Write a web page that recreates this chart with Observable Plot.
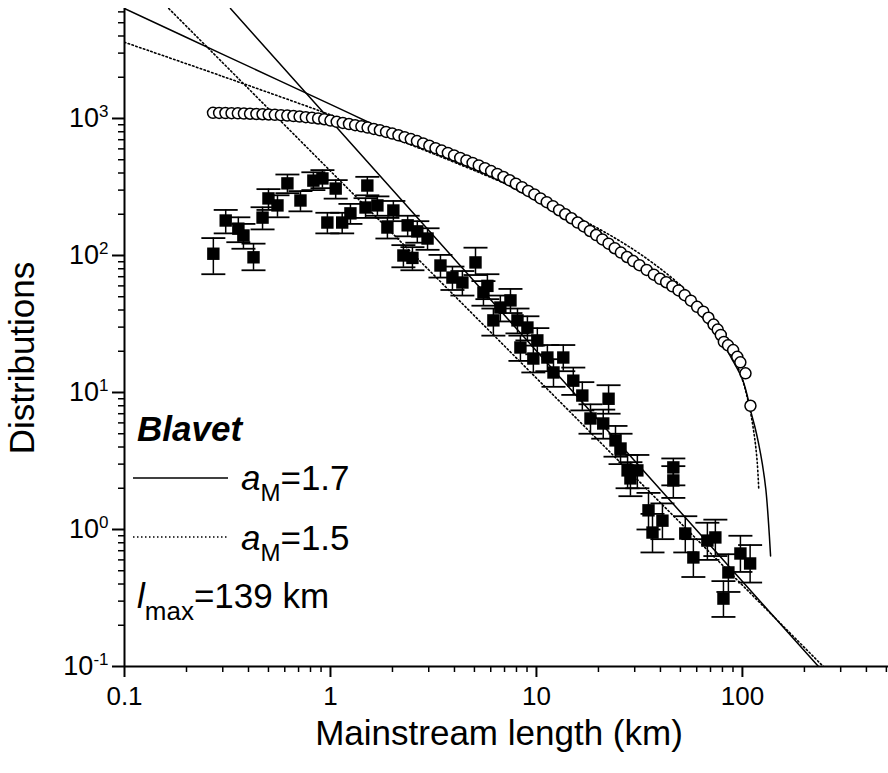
<!DOCTYPE html>
<html><head><meta charset="utf-8">
<script src="https://cdn.jsdelivr.net/npm/d3@7"></script>
<script src="https://cdn.jsdelivr.net/npm/@observablehq/plot@0.6"></script>
<style>html,body{margin:0;padding:0;background:#fff;}</style>
</head><body><div id="chart"></div>
<script>
const FONT = "'Liberation Sans', Arial, Helvetica, sans-serif";

// Axis ticks
const xMajorValues = [0.1, 1, 10, 100];
const xMajorLabels = ["0.1", "1", "10", "100"];
const xMinorValues = [0.2,0.3,0.4,0.5,0.6,0.7,0.8,0.9,2,3,4,5,6,7,8,9,20,30,40,50,60,70,80,90,200,300,400,500];
const yMajorValues = [0.1, 1, 10, 100, 1000];
const yMajorExponents = ["-1", "0", "1", "2", "3"];
const yMinorValues = [0.2,0.3,0.4,0.5,0.6,0.7,0.8,0.9,2,3,4,5,6,7,8,9,20,30,40,50,60,70,80,90,200,300,400,500,600,700,800,900,2000,3000,4000,5000,6000];

// Cumulative distribution (open circles): [length km, count]
const cumulativePoints = [[0.269,1100],[0.288,1098],[0.309,1096],[0.331,1093],[0.355,1090],[0.380,1087],[0.407,1083],[0.437,1079],[0.468,1074],[0.501,1069],[0.537,1063],[0.575,1057],[0.617,1050],[0.661,1042],[0.708,1033],[0.759,1023],[0.813,1012],[0.871,1000],[0.933,987],[1.00,965],[1.072,945],[1.148,928],[1.230,911],[1.318,894],[1.413,876],[1.514,858],[1.622,839],[1.738,820],[1.862,798],[1.995,776],[2.138,754],[2.291,731],[2.455,707],[2.630,684],[2.818,658],[3.020,632],[3.236,607],[3.467,583],[3.715,560],[3.981,537],[4.266,515],[4.571,494],[4.898,474],[5.248,454],[5.623,434],[6.026,413],[6.457,394],[6.918,374],[7.413,354],[7.943,334],[8.511,315],[9.120,296],[9.772,279],[10.47,261],[11.22,245],[12.02,229],[12.88,214],[13.80,200],[14.79,187],[15.85,174],[16.98,163],[18.20,151],[19.50,141],[20.89,131],[22.39,122],[23.99,113],[25.70,105],[27.54,97.5],[29.51,91],[31.62,85],[34.28,78.5],[37.15,72.4],[39.81,67.6],[42.66,63.8],[45.71,59.6],[48.98,55.6],[52.48,51.3],[56.23,46.8],[60.26,42.2],[64.57,38.9],[68.39,35.1],[72.44,31.3],[75.86,28.8],[78.52,26.3],[81.28,23.4],[85.11,22.1],[90.16,20.4],[94.41,18.2],[97.72,16.6],[103.5,13.8],[109.4,8.0]];

// Probability distribution (filled squares): [length km, value, lower bar, upper bar]
const pdfPoints = [[0.27,103,73,134],[0.31,180,145,215],[0.357,157,125,190],[0.378,140,112,170],[0.423,97,78,122],[0.468,189,155,225],[0.50,261,215,305],[0.553,232,190,275],[0.618,336,285,390],[0.715,252,210,295],[0.826,352,300,405],[0.914,365,310,420],[1.06,308,260,355],[0.966,174,145,205],[1.14,174,145,205],[1.51,324,275,375],[1.25,203,170,238],[1.48,224,188,262],[1.69,232,195,270],[2.02,213,178,250],[1.89,160,133,188],[2.37,166,138,195],[2.64,150,124,178],[2.96,133,110,158],[2.26,100,82,119],[2.50,96,78,115],[3.42,84.5,69,101],[5.06,89,72,114],[3.91,69,56,83],[4.37,63.5,51,77],[5.78,60,48,73],[5.53,53.7,43,65],[6.18,33.6,26,41],[7.48,47,38,57],[6.68,41.7,33,51],[8.09,33.6,27,41],[9.04,29.8,24,36],[10.1,24,19,29.5],[8.36,21.3,17,26],[9.66,17.7,14,22],[11.3,18,14.3,22.2],[13.5,18,14.3,22.2],[12.1,14,11,17.5],[15.1,12.2,9.6,15.2],[16.7,9.5,7.4,11.9],[22.4,9.0,7,11.3],[18.3,6.46,5,8.2],[21.1,5.94,4.6,7.5],[24.2,4.47,3.4,5.7],[25.6,3.9,3.0,5.0],[27.7,2.7,2.0,3.5],[30.9,2.7,2.0,3.5],[28.6,2.36,1.75,3.1],[46.2,2.84,2.1,3.3],[46.2,2.28,1.7,2.9],[35,1.38,1.0,1.85],[40.9,1.16,0.85,1.55],[36.6,0.95,0.68,1.3],[52.8,0.935,0.68,1.25],[67.6,0.83,0.6,1.12],[73.9,0.875,0.64,1.18],[57.8,0.625,0.45,0.85],[85.5,0.486,0.35,0.66],[97.8,0.668,0.49,0.9],[109,0.565,0.41,0.77],[80.9,0.313,0.23,0.42]];

// Fit curves
const fitCumSolid = [[0.1,6350],[0.3,2940],[1,1267],[3,587],[6.6,352],[10,250],[15,178],[20,133],[30,88],[40,64],[50,50],[60,39],[70,30],[80,23],[90,17],[100,12.5],[105,9.8],[110,7.2],[115,5.6],[120,4.2],[125,3.0],[130,1.95],[134,1.1],[137,0.64]];
const fitCumDotted = [[0.1,3600],[0.3,2028],[1,1064],[3,570],[10,265],[20,157],[30,109],[40,80],[50,60.7],[60,46.4],[70,35.2],[80,26.2],[90,18.7],[100,12.4],[105,9.5],[110,6.9],[115,4.5],[118,3.1],[120,2.0]];
const fitPdfSolid = [[0.327,6350],[234,0.1]];
const fitPdfDotted = [[0.164,6350],[247,0.1]];

const circles = cumulativePoints.map(([x, y]) => ({x, y}));
const squares = pdfPoints.map(([x, y, lo, hi]) => ({x, y, lo, hi}));
const toXY = arr => arr.map(([x, y]) => ({x, y}));

const capSymbol = {draw(ctx) { ctx.moveTo(-12, 0); ctx.lineTo(12, 0); }};

const svg = Plot.plot({
  width: 888, height: 773,
  marginLeft: 124, marginRight: 0, marginTop: 8, marginBottom: 107,
  style: {fontFamily: FONT, background: "white", color: "black", overflow: "visible"},
  x: {type: "log", domain: [0.1, 512]},
  y: {type: "log", domain: [0.1, 6350]},
  marks: [
    Plot.axisX({ticks: xMinorValues, tickSize: 6, tickFormat: () => "", strokeWidth: 1.5, label: null}),
    Plot.axisX({ticks: xMajorValues, tickSize: 11, tickPadding: 9, fontSize: 26, strokeWidth: 2, label: null,
      tickFormat: d => xMajorLabels[xMajorValues.indexOf(d)]}),
    Plot.axisY({ticks: yMinorValues, tickSize: 6, tickFormat: () => "", strokeWidth: 1.5, label: null}),
    Plot.axisY({ticks: yMajorValues, tickSize: 12, tickPadding: 4, fontSize: 27, strokeWidth: 2, label: null,
      tickFormat: d => "10^" + yMajorExponents[yMajorValues.indexOf(d)]}),
    Plot.ruleX([0.1], {strokeWidth: 2}),
    Plot.ruleY([0.1], {strokeWidth: 2}),
    Plot.line(toXY(fitCumSolid), {x: "x", y: "y", curve: "catmull-rom", stroke: "black", strokeWidth: 1.5, clip: true}),
    Plot.line(toXY(fitCumDotted), {x: "x", y: "y", curve: "catmull-rom", stroke: "black", strokeWidth: 1.6, strokeDasharray: "1.5,2.5", clip: true}),
    Plot.line(toXY(fitPdfSolid), {x: "x", y: "y", stroke: "black", strokeWidth: 1.5, clip: true}),
    Plot.line(toXY(fitPdfDotted), {x: "x", y: "y", stroke: "black", strokeWidth: 1.6, strokeDasharray: "1.5,2.5", clip: true}),
    Plot.ruleX(squares, {x: "x", y1: "lo", y2: "hi", stroke: "black", strokeWidth: 1.5}),
    Plot.dot(squares, {x: "x", y: "lo", symbol: capSymbol, fill: "none", stroke: "black", strokeWidth: 1.8}),
    Plot.dot(squares, {x: "x", y: "hi", symbol: capSymbol, fill: "none", stroke: "black", strokeWidth: 1.8}),
    Plot.dot(squares, {x: "x", y: "y", symbol: "square", r: 7, fill: "black", stroke: "none"}),
    Plot.dot(circles, {x: "x", y: "y", r: 5.5, fill: "white", stroke: "black", strokeWidth: 1.5})
  ]
});

const root = d3.select(svg);
// superscript exponents on y tick labels
root.selectAll('g[aria-label="y-axis tick label"] text').each(function() {
  const t = d3.select(this);
  const s = t.text();
  if (!s.includes("^")) return;
  const [base, exp] = s.split("^");
  t.text(null);
  t.append("tspan").text(base);
  t.append("tspan").attr("dy", -10).attr("font-size", 17).text(exp);
});

const g = root.append("g").attr("font-family", FONT).attr("fill", "black").attr("text-anchor", "start");
// axis titles
g.append("text").attr("transform", "translate(34,358) rotate(-90)").attr("text-anchor", "middle")
  .attr("font-size", 35).text("Distributions");
g.append("text").attr("x", 499).attr("y", 745).attr("text-anchor", "middle")
  .attr("font-size", 35).text("Mainstream length (km)");

// legend
g.append("text").attr("x", 137).attr("y", 441).attr("font-size", 35)
  .attr("font-weight", "bold").attr("font-style", "italic").text("Blavet");
g.append("line").attr("x1", 133).attr("x2", 228).attr("y1", 478).attr("y2", 478)
  .attr("stroke", "black").attr("stroke-width", 1.5);
g.append("line").attr("x1", 133).attr("x2", 229).attr("y1", 537).attr("y2", 537)
  .attr("stroke", "black").attr("stroke-width", 1.6).attr("stroke-dasharray", "1.5,2.5");
function aLabel(y, val) {
  const t = g.append("text").attr("x", 241).attr("y", y).attr("font-size", 35);
  t.append("tspan").attr("font-style", "italic").text("a");
  t.append("tspan").attr("font-size", 24).attr("dy", 11).text("M");
  t.append("tspan").attr("dy", -11).text("=" + val);
}
aLabel(490, "1.7");
aLabel(550, "1.5");
const lt = g.append("text").attr("x", 137).attr("y", 608).attr("font-size", 35);
lt.append("tspan").attr("font-style", "italic").text("l");
lt.append("tspan").attr("font-size", 26).attr("dy", 12).text("max");
lt.append("tspan").attr("dy", -12).text("=139 km");

document.getElementById("chart").appendChild(svg);
</script>
</body></html>
